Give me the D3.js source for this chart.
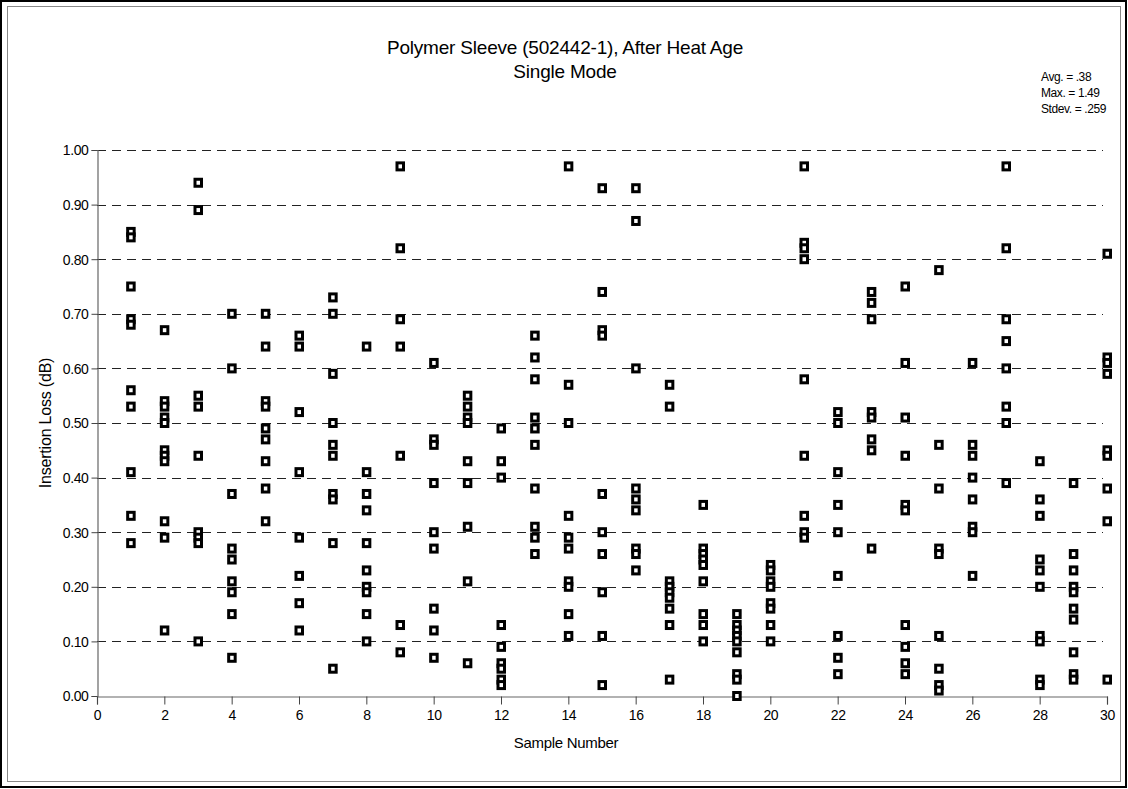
<!DOCTYPE html>
<html>
<head>
<meta charset="utf-8">
<script src="https://cdn.jsdelivr.net/npm/d3@7"></script>
<style>
  html, body { margin: 0; padding: 0; background: #fff; }
  svg { display: block; font-family: "Liberation Sans", Arial, sans-serif; }
</style>
</head>
<body>
<svg id="chart" width="1128" height="789"></svg>
<script>
// Insertion loss readings (dB) per sample, heat-aged polymer sleeves
const sampleIds = d3.range(1, 31);
const lossValues = [
  [0.85, 0.84, 0.75, 0.69, 0.68, 0.56, 0.53, 0.41, 0.33, 0.28],          // 1
  [0.67, 0.54, 0.53, 0.51, 0.50, 0.45, 0.44, 0.43, 0.32, 0.29, 0.12],    // 2
  [0.94, 0.89, 0.55, 0.53, 0.44, 0.30, 0.29, 0.28, 0.10],                // 3
  [0.70, 0.60, 0.37, 0.27, 0.25, 0.21, 0.19, 0.15, 0.07],                // 4
  [0.70, 0.64, 0.54, 0.53, 0.49, 0.47, 0.43, 0.38, 0.32],                // 5
  [0.66, 0.64, 0.52, 0.41, 0.29, 0.22, 0.17, 0.12],                      // 6
  [0.73, 0.70, 0.59, 0.50, 0.46, 0.44, 0.37, 0.36, 0.28, 0.05],          // 7
  [0.64, 0.41, 0.37, 0.34, 0.28, 0.23, 0.20, 0.19, 0.15, 0.10],          // 8
  [0.97, 0.82, 0.69, 0.64, 0.44, 0.13, 0.08],                            // 9
  [0.61, 0.47, 0.46, 0.39, 0.30, 0.27, 0.16, 0.12, 0.07],                // 10
  [0.55, 0.53, 0.51, 0.50, 0.43, 0.39, 0.31, 0.21, 0.06],                // 11
  [0.49, 0.43, 0.40, 0.13, 0.09, 0.06, 0.05, 0.03, 0.02],                // 12
  [0.66, 0.62, 0.58, 0.51, 0.49, 0.46, 0.38, 0.31, 0.29, 0.26],          // 13
  [0.97, 0.57, 0.50, 0.33, 0.29, 0.27, 0.21, 0.20, 0.15, 0.11],          // 14
  [0.93, 0.74, 0.67, 0.66, 0.37, 0.30, 0.26, 0.19, 0.11, 0.02],          // 15
  [0.93, 0.87, 0.60, 0.38, 0.36, 0.34, 0.27, 0.26, 0.23],                // 16
  [0.57, 0.53, 0.21, 0.20, 0.19, 0.18, 0.16, 0.13, 0.03],                // 17
  [0.35, 0.27, 0.26, 0.25, 0.24, 0.21, 0.15, 0.13, 0.10],                // 18
  [0.15, 0.13, 0.12, 0.11, 0.10, 0.08, 0.04, 0.03, 0.00],                // 19
  [0.24, 0.23, 0.21, 0.20, 0.17, 0.16, 0.13, 0.10],                      // 20
  [0.97, 0.83, 0.82, 0.80, 0.58, 0.44, 0.33, 0.30, 0.29],                // 21
  [0.52, 0.50, 0.41, 0.35, 0.30, 0.22, 0.11, 0.07, 0.04],                // 22
  [0.74, 0.72, 0.69, 0.52, 0.51, 0.47, 0.45, 0.27],                      // 23
  [0.75, 0.61, 0.51, 0.44, 0.35, 0.34, 0.13, 0.09, 0.06, 0.04],          // 24
  [0.78, 0.46, 0.38, 0.27, 0.26, 0.11, 0.05, 0.02, 0.01],                // 25
  [0.61, 0.46, 0.44, 0.40, 0.36, 0.31, 0.30, 0.22],                      // 26
  [0.97, 0.82, 0.69, 0.65, 0.60, 0.53, 0.50, 0.39],                      // 27
  [0.43, 0.36, 0.33, 0.25, 0.23, 0.20, 0.11, 0.10, 0.03, 0.02],          // 28
  [0.39, 0.26, 0.23, 0.20, 0.19, 0.16, 0.14, 0.08, 0.04, 0.03],          // 29
  [0.81, 0.62, 0.61, 0.59, 0.45, 0.44, 0.38, 0.32, 0.03]                 // 30
];
const xTickValues = d3.range(0, 31, 2);
const yTickValues = d3.range(0, 1.0001, 0.1);
const titleLines = ["Polymer Sleeve (502442-1), After Heat Age", "Single Mode"];
const statLines = ["Avg. = .38", "Max. = 1.49", "Stdev. = .259"];
const xAxisTitle = "Sample Number";
const yAxisTitle = "Insertion Loss (dB)";

const points = [];
sampleIds.forEach((s, i) => lossValues[i].forEach(v => points.push({ sample: s, loss: v })));

const svg = d3.select("#chart");
const W = 1128, H = 789;

// frame
svg.append("rect").attr("x", 1).attr("y", 1).attr("width", W - 3).attr("height", H - 3)
  .attr("fill", "#fff").attr("stroke", "#000").attr("stroke-width", 2);
svg.append("rect").attr("x", 7.5).attr("y", 6.5).attr("width", 1113).attr("height", 775)
  .attr("fill", "none").attr("stroke", "#888").attr("stroke-width", 1);

const x = d3.scaleLinear().domain([0, 30]).range([97, 1107]);
const y = d3.scaleLinear().domain([0, 1]).range([696, 150]);

// dashed gridlines
svg.append("g").selectAll("line").data(yTickValues.filter(v => v > 0.001)).join("line")
  .attr("x1", x(0)).attr("x2", 1103)
  .attr("y1", d => Math.round(y(d)) + 0.5).attr("y2", d => Math.round(y(d)) + 0.5)
  .attr("stroke", "#222").attr("stroke-width", 1).attr("stroke-dasharray", "9,6");

// axes
const xAxis = svg.append("g").attr("transform", `translate(0,${Math.round(y(0)) + 0.5})`)
  .call(d3.axisBottom(x).tickValues(xTickValues).tickFormat(d3.format("d")).tickSize(8).tickPadding(6));
const yAxis = svg.append("g").attr("transform", `translate(${x(0) + 0.5},0)`)
  .call(d3.axisLeft(y).tickValues(yTickValues).tickFormat(d3.format(".2f")).tickSize(6).tickPadding(3));
[xAxis, yAxis].forEach(g => {
  g.select(".domain").attr("stroke", "#666").attr("stroke-width", 1.2);
  g.selectAll(".tick line").attr("stroke", "#444");
  g.selectAll(".tick text").attr("fill", "#000").attr("font-size", 14)
    .attr("font-family", "'Liberation Sans', Arial, sans-serif").attr("letter-spacing", "-0.4px");
});
yAxis.selectAll(".tick line").attr("y1", 0).attr("y2", 0);
yAxis.selectAll(".tick text").attr("dy", "0.35em");

// markers: small open squares
svg.append("g").selectAll("rect").data(points).join("rect")
  .attr("x", d => x(d.sample) - 3)
  .attr("y", d => y(d.loss) - 3.5)
  .attr("width", 6.5).attr("height", 7)
  .attr("fill", "#fff").attr("stroke", "#000").attr("stroke-width", 3);

// titles
svg.append("g").selectAll("text").data(titleLines).join("text")
  .attr("x", 565).attr("y", (d, i) => 54 + i * 24)
  .attr("text-anchor", "middle").attr("font-size", 19).attr("letter-spacing", "-0.2px")
  .text(d => d);

svg.append("g").selectAll("text").data(statLines).join("text")
  .attr("x", 1041).attr("y", (d, i) => 81 + i * 16)
  .attr("font-size", 12).attr("letter-spacing", "-0.4px")
  .text(d => d);

svg.append("text").attr("x", 566).attr("y", 748).attr("text-anchor", "middle")
  .attr("font-size", 15).attr("letter-spacing", "-0.3px").text(xAxisTitle);

svg.append("text").attr("transform", `translate(51,423) rotate(-90)`)
  .attr("text-anchor", "middle").attr("font-size", 16).attr("letter-spacing", "-0.2px").text(yAxisTitle);
</script>
</body>
</html>
